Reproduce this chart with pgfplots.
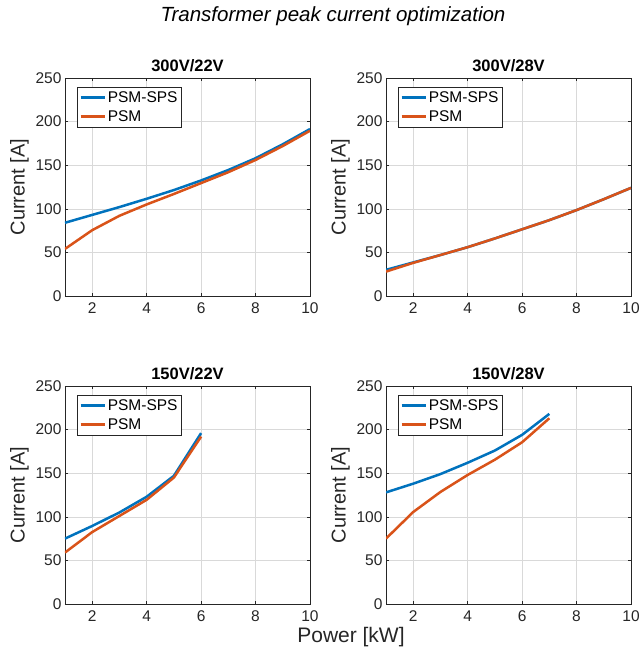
\documentclass[border=0pt]{standalone}
\usepackage{pgfplots}
\pgfplotsset{compat=1.18}
\usepackage{fontspec}
\setmainfont{Liberation Sans}
\definecolor{mblue}{rgb}{0,0.447,0.741}
\definecolor{morange}{rgb}{0.85,0.325,0.098}
\definecolor{axgray}{gray}{0.15}
\pgfplotsset{
  panel/.style={
    scale only axis, width=245pt, height=218pt,
    xmin=1, xmax=10, ymin=0, ymax=250,
    xtick={2,4,6,8,10}, ytick={0,50,100,150,200,250},
    grid=major, grid style={gray!30, line width=0.5pt},
    axis line style={axgray, line width=0.6pt},
    tick style={axgray, line width=0.6pt}, major tick length=3pt,
    tick align=inside,
    /pgf/number format/assume math mode=true,
    ticklabel style={font=\fontsize{15.5}{15.5}\selectfont, text=axgray},
    xticklabel style={yshift=-3pt},
    ylabel={Current [A]},
    ylabel style={font=\fontsize{20}{20}\selectfont, text=axgray},
    title style={font=\bfseries\fontsize{16.5}{16.5}\selectfont, yshift=-3pt},
    legend style={at={(0.049,0.959)}, anchor=north west,
      draw=axgray, line width=0.6pt, font=\fontsize{15.5}{17}\selectfont, text=black,
      inner xsep=2pt, inner ysep=2pt, row sep=3pt, cells={anchor=west}},
    legend cell align=left,
    legend image code/.code={\draw[line width=2.5pt,##1] (0pt,0pt) -- (24pt,0pt);},
    every axis plot/.append style={line width=2.5pt},
  }
}
\begin{document}
\begin{tikzpicture}[x=1pt,y=1pt]
\path[use as bounding box] (0,0) rectangle (640,-653);
\node[font=\itshape\fontsize{20.5}{20.5}\selectfont, text=black] at (333,-16) {Transformer peak current optimization};
% top-left
\begin{axis}[panel, at={(65pt,-296pt)}, anchor=south west, title={300V/22V}]
\addplot[mblue] coordinates {(1,84) (2,93) (3,102) (4,111.5) (5,121.5) (6,132.5) (7,144.5) (8,158) (9,174) (10,191.5)};
\addplot[morange] coordinates {(1,54) (2,75.5) (3,92) (4,105) (5,117) (6,129.5) (7,142) (8,156) (9,172) (10,189.5)};
\legend{PSM-SPS,PSM}
\end{axis}
% top-right
\begin{axis}[panel, at={(386pt,-296pt)}, anchor=south west, title={300V/28V}]
\addplot[mblue] coordinates {(1,30) (2,38.5) (3,47) (4,56) (5,66) (6,76.5) (7,87) (8,98.5) (9,111) (10,124)};
\addplot[morange] coordinates {(1,28) (2,38) (3,47) (4,56) (5,66) (6,76.5) (7,87) (8,98.5) (9,111) (10,124)};
\legend{PSM-SPS,PSM}
\end{axis}
% bottom-left
\begin{axis}[panel, at={(65pt,-604pt)}, anchor=south west, title={150V/22V}]
\addplot[mblue] coordinates {(1,75) (2,89.5) (3,105) (4,123) (5,147) (6,196)};
\addplot[morange] coordinates {(1,59) (2,82.5) (3,101) (4,119.5) (5,145) (6,192)};
\legend{PSM-SPS,PSM}
\end{axis}
% bottom-right
\begin{axis}[panel, at={(386pt,-604pt)}, anchor=south west, title={150V/28V}]
\addplot[mblue] coordinates {(1,128) (2,138) (3,149) (4,162) (5,176) (6,194) (7,218)};
\addplot[morange] coordinates {(1,75) (2,105.5) (3,128.5) (4,148) (5,165.5) (6,185.5) (7,213)};
\legend{PSM-SPS,PSM}
\end{axis}
\node[font=\fontsize{21}{21}\selectfont, text=axgray] at (351,-637) {Power [kW]};
\end{tikzpicture}
\end{document}
